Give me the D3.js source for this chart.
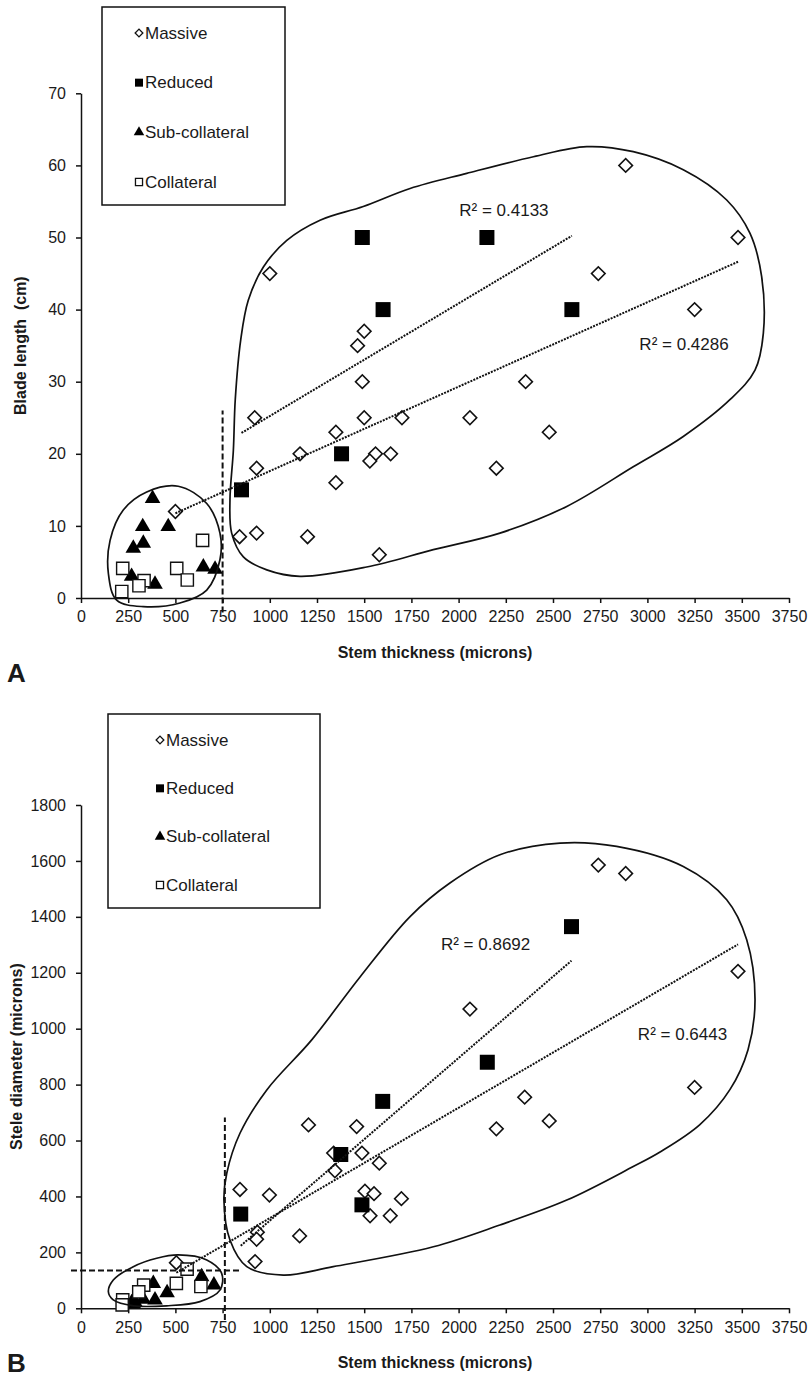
<!DOCTYPE html>
<html>
<head>
<meta charset="utf-8">
<script src="https://cdn.jsdelivr.net/npm/d3@7"></script>
<style>
  body { margin: 0; background: #fff; }
  text { font-family: "Liberation Sans", Arial, sans-serif; fill: #1a1a1a; }
</style>
</head>
<body>
<svg id="chart" width="810" height="1379"></svg>
<script>
// ---- data ----
const xTicks = d3.range(0, 3751, 250)
const yTicksA = d3.range(0, 71, 10)
const yTicksB = d3.range(0, 1801, 200)
const legendLabels = ["Massive", "Reduced", "Sub-collateral", "Collateral"]

// panel A: stem thickness (microns) vs blade length (cm)
const massiveA = [[2885,60],[3480,50],[2740,45],[3250,40],[1000,45],[1500,37],[1465,35],[1490,30],[2355,30],
  [920,25],[1500,25],[1700,25],[2060,25],[1350,23],[2480,23],[1160,20],[1560,20],[1530,19],[1640,20],
  [930,18],[2200,18],[1350,16],[500,12],[840,8.5],[930,9],[1200,8.5],[1580,6]]
const reducedA = [[850,15],[1380,20],[1490,50],[1600,40],[2150,50],[2600,40]]
const subA = [[379,13.8],[327,9.9],[462,9.9],[330,7.6],[277,6.9],[648,4.3],[710,4],[268,3],[392,1.9]]
const collA = [[644,8],[221,4.1],[507,4.1],[334,2.4],[307,1.7],[563,2.5],[216,0.9]]
const r2A = ["R² = 0.4133", "R² = 0.4286"]
const r2PosA = [[2240,53.8],[3194,35.1]]

// panel B: stem thickness vs stele diameter (microns)
const massiveB = [[2740,1585],[2885,1555],[3480,1205],[2060,1070],[3250,790],[2350,755],[2480,670],[2200,642],
  [1205,656],[1460,650],[1338,555],[1488,555],[1580,519],[1345,492],[842,425],[998,405],[1504,419],[1552,410],
  [1697,392],[1531,331],[1638,331],[934,272],[930,247],[1158,259],[922,167],[505,163]]
const reducedB = [[846,337],[1376,550],[1488,370],[1598,740],[2152,880],[2598,1365]]
const subB = [[383,89],[456,56],[639,113],[704,83],[330,32],[286,22],[277,16],[268,20],[392,30]]
const collB = [[635,78],[221,30],[505,89],[332,83],[306,59],[562,140],[218,12]]
const r2B = ["R² = 0.8692", "R² = 0.6443"]
const r2PosB = [[2143,1300],[3186,978]]

// hand-drawn envelopes, in data units
const bigEnvA = [[817,27.5],[846,35.8],[886,41.3],[966,45.9],[1090,49.6],[1266,52.4],[1495,54.3],[1743,56.8],
  [2043,58.9],[2396,61.2],[2679,62.6],[2925,61.9],[3190,59.4],[3420,55.2],[3543,50.6],[3605,44.6],[3614,36.7],
  [3570,31.6],[3437,27.5],[3190,22.4],[2925,18.2],[2573,12.7],[2219,9],[1866,6.7],[1513,4.3],[1160,3],[984,3.9],
  [860,5.7],[798,9],[789,13.6],[807,20.5]]
const smallEnvA = [[515,15.5],[666,13.1],[736,9],[736,5.3],[666,1.1],[524,-0.7],[330,-1.2],[189,-0.3],
  [145,3.4],[154,8],[224,12.2],[348,14.7]]
const bigEnvB = [[1222,960],[1478,1185],[1743,1401],[1954,1521],[2219,1622],[2537,1664],[2837,1652],[3190,1580],
  [3420,1461],[3526,1318],[3570,1103],[3533,925],[3437,782],[3278,657],[3067,559],[2925,507],[2573,387],
  [2219,298],[1866,220],[1336,149],[1072,119],[878,149],[789,244],[757,387],[772,483],[842,626],[984,781]]
const smallEnvB = [[515,191],[666,173],[745,125],[736,65],[630,24],[454,9],[277,9],[171,30],[145,59],
  [171,101],[277,149],[401,179]]

// dashed guide lines, data units
const guidesA = [[[750,-2],[750,26]]]
const guidesB = [[[762,-42],[762,682]], [[-53,135],[846,135]]]

const svg = d3.select('#chart')

function fitLine(pts) {
    const mx = d3.mean(pts, d => d[0]), my = d3.mean(pts, d => d[1])
    const sxy = d3.sum(pts, d => (d[0] - mx) * (d[1] - my))
    const sxx = d3.sum(pts, d => (d[0] - mx) ** 2)
    const b = sxy / sxx, a = my - b * mx
    const [x0, x1] = d3.extent(pts, d => d[0])
    return [[x0, a + b * x0], [x1, a + b * x1]]
}

const diamond = d3.symbol(d3.symbolSquare, 92)
const bigSquare = d3.symbol(d3.symbolSquare, 225)
const openSquare = d3.symbol(d3.symbolSquare, 150)
const triangle = d3.symbol(d3.symbolTriangle, 105)

function drawPanel(p) {
    const g = svg.append('g')
    const x = d3.scaleLinear().domain([0, 3750]).range([81, 789])
    const y = d3.scaleLinear().domain(p.yDomain).range([p.bottom, p.top])

    // axes
    const xAxis = g.append('g')
        .attr('transform', `translate(0,${p.bottom})`)
        .call(d3.axisBottom(x).tickValues(xTicks).tickFormat(d3.format('d'))
            .tickSize(5).tickSizeOuter(0).tickPadding(8))
    const yAxis = g.append('g')
        .attr('transform', `translate(81,0)`)
        .call(d3.axisLeft(y).tickValues(p.yTicks).tickFormat(d3.format('d'))
            .tickSize(5).tickSizeOuter(0).tickPadding(10))
    ;[xAxis, yAxis].forEach(a => {
        a.selectAll('path, line').attr('stroke', '#111').attr('stroke-width', 1.5)
        a.selectAll('text').style('font-size', '16px').style('font-family', '"Liberation Sans", Arial, sans-serif').attr('fill', '#1a1a1a')
    })

    g.append('text')
        .attr('x', 435).attr('y', p.bottom + 60)
        .attr('text-anchor', 'middle')
        .style('font-size', '16px').style('font-weight', 'bold')
        .text('Stem thickness (microns)')
    g.append('text')
        .attr('transform', `translate(${p.yTitleX},${(p.top + p.bottom) / 2}) rotate(-90)`)
        .attr('text-anchor', 'middle')
        .style('font-size', '16px').style('font-weight', 'bold').style('white-space', 'pre')
        .text(p.yTitle)
    g.append('text')
        .attr('x', 7).attr('y', p.letterY)
        .style('font-size', '26px').style('font-weight', 'bold')
        .text(p.letter)

    // markers: massive, reduced, sub-collateral, collateral
    g.selectAll('.massive').data(p.massive).join('path')
        .attr('class', 'massive')
        .attr('d', diamond)
        .attr('transform', d => `translate(${x(d[0])},${y(d[1])}) rotate(45)`)
        .attr('fill', '#fff').attr('stroke', '#111').attr('stroke-width', 1.6)
    g.selectAll('.reduced').data(p.reduced).join('path')
        .attr('class', 'reduced')
        .attr('d', bigSquare)
        .attr('transform', d => `translate(${x(d[0])},${y(d[1])})`)
        .attr('fill', '#000')
    g.selectAll('.sub').data(p.sub).join('path')
        .attr('class', 'sub')
        .attr('d', triangle)
        .attr('transform', d => `translate(${x(d[0])},${y(d[1])})`)
        .attr('fill', '#000')
    g.selectAll('.coll').data(p.coll).join('path')
        .attr('class', 'coll')
        .attr('d', openSquare)
        .attr('transform', d => `translate(${x(d[0])},${y(d[1])})`)
        .attr('fill', '#fff').attr('stroke', '#111').attr('stroke-width', 1.4)

    const line = d3.line().x(d => x(d[0])).y(d => y(d[1]))

    // trend lines (least squares) for reduced and massive
    g.selectAll('.trend').data([fitLine(p.reduced), fitLine(p.massive)]).join('path')
        .attr('class', 'trend')
        .attr('d', line)
        .attr('fill', 'none').attr('stroke', '#111').attr('stroke-width', 2)
        .attr('stroke-dasharray', '2,1.2')

    g.selectAll('.r2').data(p.r2).join('text')
        .attr('class', 'r2')
        .attr('x', (d, i) => x(p.r2Pos[i][0]))
        .attr('y', (d, i) => y(p.r2Pos[i][1]))
        .attr('text-anchor', 'middle').attr('dominant-baseline', 'central')
        .style('font-size', '17px')
        .text(d => d)

    // dashed guides
    g.selectAll('.guide').data(p.guides).join('path')
        .attr('class', 'guide')
        .attr('d', line)
        .attr('stroke', '#111').attr('stroke-width', 2)
        .attr('stroke-dasharray', '6,3')

    // envelopes
    const closed = d3.line().x(d => x(d[0])).y(d => y(d[1])).curve(d3.curveCatmullRomClosed.alpha(0.5))
    g.selectAll('.env').data(p.envelopes).join('path')
        .attr('class', 'env')
        .attr('d', closed)
        .attr('fill', 'none').attr('stroke', '#111').attr('stroke-width', 1.7)

    // legend
    const lb = p.legend
    const lg = g.append('g')
    lg.append('rect')
        .attr('x', lb.x).attr('y', lb.y).attr('width', lb.w).attr('height', lb.h)
        .attr('fill', '#fff').attr('stroke', '#111').attr('stroke-width', 1.5)
    const ly = d3.scalePoint().domain(legendLabels).range([lb.y + 26, lb.y + lb.h - 23])
    const legendSym = [
        d3.symbol(d3.symbolSquare, 30), d3.symbol(d3.symbolSquare, 64),
        d3.symbol(d3.symbolTriangle, 48), d3.symbol(d3.symbolSquare, 50)
    ]
    const item = lg.selectAll('.item').data(legendLabels).join('g')
        .attr('class', 'item')
        .attr('transform', d => `translate(${lb.x + lb.symX},${ly(d)})`)
    item.append('path')
        .attr('d', (d, i) => legendSym[i]())
        .attr('transform', (d, i) => i === 0 ? 'rotate(45)' : null)
        .attr('fill', (d, i) => i === 1 || i === 2 ? '#000' : '#fff')
        .attr('stroke', (d, i) => i === 1 || i === 2 ? 'none' : '#111')
        .attr('stroke-width', 1.3)
    item.append('text')
        .attr('x', 6).attr('dominant-baseline', 'central')
        .style('font-size', '17px')
        .text(d => d)
}

drawPanel({
    top: 93.3, bottom: 598, yDomain: [0, 70], yTicks: yTicksA,
    yTitle: 'Blade length  (cm)', yTitleX: 26, letter: 'A', letterY: 682,
    massive: massiveA, reduced: reducedA, sub: subA, coll: collA,
    r2: r2A, r2Pos: r2PosA, guides: guidesA, envelopes: [bigEnvA, smallEnvA],
    legend: { x: 102, y: 7, w: 183, h: 198, symX: 37 }
})

drawPanel({
    top: 805, bottom: 1308.3, yDomain: [0, 1800], yTicks: yTicksB,
    yTitle: 'Stele diameter (microns)', yTitleX: 22, letter: 'B', letterY: 1372,
    massive: massiveB, reduced: reducedB, sub: subB, coll: collB,
    r2: r2B, r2Pos: r2PosB, guides: guidesB, envelopes: [bigEnvB, smallEnvB],
    legend: { x: 108, y: 714, w: 212, h: 194, symX: 52 }
})
</script>
</body>
</html>
